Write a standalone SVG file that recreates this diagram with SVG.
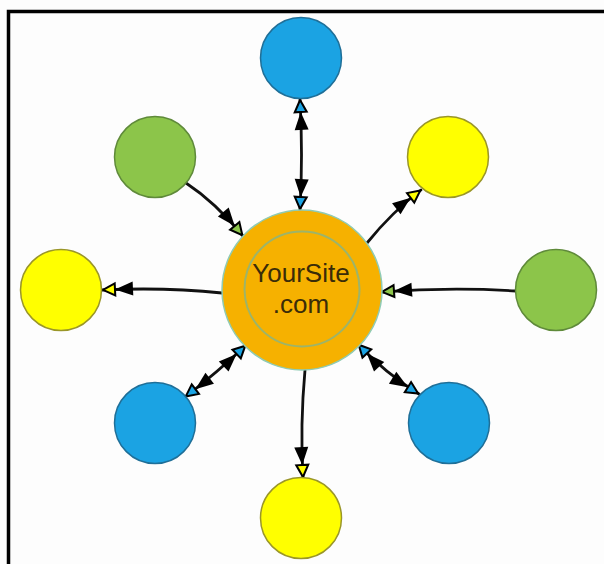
<svg xmlns="http://www.w3.org/2000/svg" width="604" height="564" viewBox="0 0 604 564">
<style>
.blue{fill:#1ba3e3;stroke:#1f6f98;stroke-width:1.5}
.green{fill:#8cc54a;stroke:#5f8a3a;stroke-width:1.5}
.yellow{fill:#ffff00;stroke:#9a9628;stroke-width:1.5}
.conn path{fill:none;stroke:#111;stroke-width:2.8;stroke-linecap:round}
.lbl{font-family:"Liberation Sans",Arial,sans-serif;font-size:26px;fill:#3a2c08;text-anchor:middle}
</style>
<defs>
<marker id="mB" markerUnits="userSpaceOnUse" viewBox="-34 -10 36 20" refX="0" refY="0" markerWidth="36" markerHeight="20" orient="auto-start-reverse" overflow="visible">
<path d="M-31,-7 L-13,0 L-31,7 Z" fill="#000"/>
<path d="M-1,0 L-13,-6 L-13,6 Z" fill="#1ba3e3" stroke="#000" stroke-width="2"/>
</marker>
<marker id="mG" markerUnits="userSpaceOnUse" viewBox="-34 -10 36 20" refX="0" refY="0" markerWidth="36" markerHeight="20" orient="auto-start-reverse" overflow="visible">
<path d="M-31,-7 L-13,0 L-31,7 Z" fill="#000"/>
<path d="M-1,0 L-13,-6 L-13,6 Z" fill="#8cc54a" stroke="#000" stroke-width="2"/>
</marker>
<marker id="mY" markerUnits="userSpaceOnUse" viewBox="-34 -10 36 20" refX="0" refY="0" markerWidth="36" markerHeight="20" orient="auto-start-reverse" overflow="visible">
<path d="M-31,-7 L-13,0 L-31,7 Z" fill="#000"/>
<path d="M-1,0 L-13,-6 L-13,6 Z" fill="#ffff00" stroke="#000" stroke-width="2"/>
</marker>
</defs>
<rect width="604" height="564" fill="#fdfdfd"/>
<path d="M8.5,566 V11.5 H606" fill="none" stroke="#000" stroke-width="3.5"/>

<g id="connectors" class="conn">
<path d="M300,210 Q303,155 300,99" marker-start="url(#mB)" marker-end="url(#mB)"/>
<path d="M186,183 Q215,202 243,236" marker-end="url(#mG)"/>
<path d="M367,243 Q392,212 421,190" marker-end="url(#mY)"/>
<path d="M222,293 Q165,287 102,290" marker-end="url(#mY)"/>
<path d="M516,291 Q450,287 381,292" marker-end="url(#mG)"/>
<path d="M246,345 Q218,372 185,397" marker-start="url(#mB)" marker-end="url(#mB)"/>
<path d="M358,344 Q385,373 419,394" marker-start="url(#mB)" marker-end="url(#mB)"/>
<path d="M305,370 Q300,425 303,478" marker-end="url(#mY)"/>
</g>

<g id="center">
<circle cx="302" cy="290" r="80" fill="#f6b100" stroke="#8fcbb4" stroke-width="1.5"/>
<circle cx="302" cy="289" r="57.5" fill="none" stroke="#9cb46a" stroke-width="2"/>
<text class="lbl" x="301" y="282">YourSite</text>
<text class="lbl" x="301" y="313">.com</text>
</g>
<g id="n-top"><circle class="blue" cx="301" cy="58" r="40.5"/></g>
<g id="n-topleft"><circle class="green" cx="155" cy="157" r="40.5"/></g>
<g id="n-topright"><circle class="yellow" cx="448" cy="157" r="40.5"/></g>
<g id="n-left"><circle class="yellow" cx="61" cy="290" r="40.5"/></g>
<g id="n-right"><circle class="green" cx="556" cy="290" r="40.5"/></g>
<g id="n-bottomleft"><circle class="blue" cx="155" cy="423" r="40.5"/></g>
<g id="n-bottomright"><circle class="blue" cx="449" cy="423" r="40.5"/></g>
<g id="n-bottom"><circle class="yellow" cx="301" cy="518" r="40.5"/></g>
</svg>
